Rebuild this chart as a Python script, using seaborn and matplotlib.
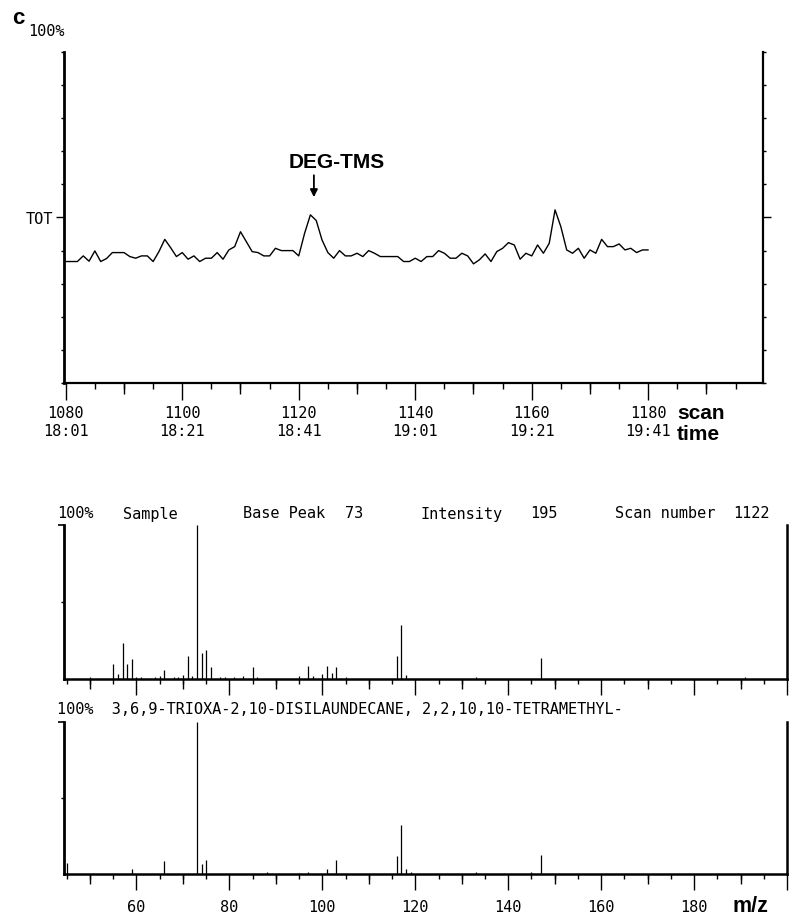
import numpy as np
import pandas as pd
import matplotlib
matplotlib.use("Agg")
import matplotlib.pyplot as plt
import seaborn as sns

# ---------------- data ----------------
scan_numbers = list(range(1080, 1181))
tic_percent = [
    36.7, 36.7, 36.7, 38.4, 36.8, 39.9, 36.7, 37.6, 39.4, 39.4,   # 1080-1089
    39.4, 38.2, 37.7, 38.4, 38.4, 36.7, 39.7, 43.4, 40.9, 38.2,   # 1090-1099
    39.4, 37.4, 38.4, 36.7, 37.7, 37.7, 39.4, 37.4, 40.2, 41.2,   # 1100-1109
    45.7, 42.7, 39.7, 39.4, 38.4, 38.4, 40.7, 40.0, 40.0, 40.0,   # 1110-1119
    38.4, 45.2, 50.8, 49.1, 43.2, 39.4, 37.7, 40.0, 38.4, 38.4,   # 1120-1129
    39.2, 38.2, 40.0, 39.2, 38.2, 38.2, 38.2, 38.2, 36.7, 36.7,   # 1130-1139
    37.7, 36.7, 38.2, 38.2, 40.0, 39.2, 37.7, 37.7, 39.2, 38.4,   # 1140-1149
    36.0, 37.2, 39.0, 36.7, 39.7, 40.7, 42.4, 41.7, 37.4, 39.2,   # 1150-1159
    38.4, 41.7, 39.2, 42.2, 52.3, 47.2, 40.2, 39.2, 40.7, 37.7,   # 1160-1169
    40.2, 39.2, 43.4, 41.2, 41.2, 42.0, 40.2, 40.7, 39.4, 40.2,   # 1170-1179
    40.2,                                                          # 1180
]
scan_tick_values = [1080, 1100, 1120, 1140, 1160, 1180]
time_tick_labels = ["18:01", "18:21", "18:41", "19:01", "19:21", "19:41"]

sample_mz = [50, 55, 56, 57, 58, 59, 60, 61, 64, 65, 66, 68, 69, 70, 71, 72,
             73, 74, 75, 76, 78, 79, 81, 83, 85, 86, 95, 97, 98, 100, 101,
             102, 103, 105, 116, 117, 118, 133, 147, 191]
sample_intensity = [1.0, 9.7, 3.0, 23.6, 9.7, 13.0, 1.0, 1.0, 1.0, 2.0, 5.6,
                    1.0, 1.5, 2.5, 15.0, 2.0, 100.0, 16.7, 18.6, 7.8, 1.5, 1.2,
                    1.5, 2.0, 7.8, 1.5, 2.0, 8.2, 2.0, 3.0, 8.2, 4.0, 7.8, 1.5,
                    15.0, 35.0, 2.6, 1.0, 13.9, 1.0]

ref_mz = [45, 59, 66, 73, 74, 75, 88, 95, 97, 101, 103, 116, 117, 118, 119,
          133, 145, 147]
ref_intensity = [7.0, 3.0, 8.5, 100.0, 6.8, 9.0, 1.0, 0.8, 1.0, 3.5, 9.0,
                 12.0, 32.5, 3.5, 1.0, 1.0, 1.0, 12.7]

mz_tick_values = [60, 80, 100, 120, 140, 160, 180]

sample_header = [("100%", 57), ("Sample", 123), ("Base Peak", 243), ("73", 345),
                 ("Intensity", 420), ("195", 530), ("Scan number", 615),
                 ("1122", 733)]
ref_header = "100%  3,6,9-TRIOXA-2,10-DISILAUNDECANE, 2,2,10,10-TETRAMETHYL-"

# ---------------- style ----------------
sns.set_theme(style="ticks")
plt.rcParams["font.family"] = ["DejaVu Sans Mono", "DejaVu Sans"]
plt.rcParams["axes.edgecolor"] = "black"
plt.rcParams["xtick.color"] = "black"
plt.rcParams["ytick.color"] = "black"
plt.rcParams["text.color"] = "black"

W, H = 792, 917
fig = plt.figure(figsize=(W / 100, H / 100), dpi=100)
fig.patch.set_facecolor("white")

MONO = 11
BOLD = dict(family=["Liberation Sans", "DejaVu Sans"], weight="bold")


def px_axes(left, top, right, bottom):
    return fig.add_axes([left / W, 1 - bottom / H, (right - left) / W, (bottom - top) / H])


def ftext(x, y, s, **kw):
    kw.setdefault("va", "center")
    kw.setdefault("ha", "left")
    return fig.text(x / W, 1 - y / H, s, **kw)


# ---------------- TIC chromatogram ----------------
ax = px_axes(64, 52, 763, 383)
df_tic = pd.DataFrame({"scan": scan_numbers, "tic": tic_percent})
sns.lineplot(data=df_tic, x="scan", y="tic", ax=ax, color="black", lw=1.0)
ax.set_xlim(1079.7, 1199.7)
ax.set_ylim(0, 100)
ax.set_xlabel("")
ax.set_ylabel("")
ax.spines["top"].set_visible(False)
ax.spines["left"].set_linewidth(2.0)
ax.spines["bottom"].set_linewidth(1.6)
ax.spines["right"].set_linewidth(1.6)

ax.set_xticks(scan_tick_values)
ax.set_xticklabels([f"{s}\n{t}" for s, t in zip(scan_tick_values, time_tick_labels)])
ax.set_xticks([v for v in range(1085, 1200, 5)], minor=True)
ax.tick_params(axis="x", which="major", direction="out", length=12, width=1.0,
               pad=4.5, labelsize=MONO, bottom=True)
ax.tick_params(axis="x", which="minor", direction="out", length=4, width=1.0, bottom=True)
for lbl in ax.get_xticklabels():
    lbl.set_linespacing(1.25)
sec = ax.secondary_xaxis("bottom")
sec.set_xticks([v for v in range(1090, 1200, 20)])
sec.set_xticklabels([])
sec.tick_params(axis="x", direction="out", length=8, width=1.0)
sec.spines["bottom"].set_visible(False)

ax.set_yticks([50])
ax.set_yticklabels(["TOT"])
ax.set_yticks([v for v in range(0, 101, 10)], minor=True)
ax.tick_params(axis="y", which="major", direction="out", length=6, width=1.0,
               pad=2, labelsize=MONO, left=True, right=True)
ax.tick_params(axis="y", which="minor", direction="out", length=2.5, width=1.0,
               left=True, right=True)

ax.annotate("", xy=(1122.6, 55.3), xytext=(1122.6, 63.6),
            arrowprops=dict(arrowstyle="-|>", color="black", lw=1.3, mutation_scale=11))
ax.text(1118.3, 66.6, "DEG-TMS", fontsize=15, va="center", ha="left", **BOLD)

ftext(28, 31, "100%", fontsize=MONO)
ftext(12, 18, "c", fontsize=16, **BOLD)
ftext(677, 414, "scan", fontsize=15, **BOLD)
ftext(677, 434, "time", fontsize=15, **BOLD)


# ---------------- mass spectra ----------------
def spectrum_axes(top, bottom, mz, inten, labels):
    a = px_axes(64, top, 787, bottom)
    a.vlines(mz, 0, inten, color="black", lw=0.9)
    a.set_xlim(44.4, 200.0)
    a.set_ylim(0, 100)
    a.spines["top"].set_visible(False)
    a.spines["left"].set_linewidth(2.0)
    a.spines["bottom"].set_linewidth(1.8)
    a.spines["right"].set_linewidth(1.8)
    a.set_xticks(mz_tick_values + [200])
    if labels:
        a.set_xticklabels([str(v) for v in mz_tick_values] + [""])
    else:
        a.set_xticklabels([])
    a.set_xticks([v for v in range(45, 201, 5)], minor=True)
    a.tick_params(axis="x", which="major", direction="out", length=11.5, width=1.0,
                  pad=7.5, labelsize=MONO, bottom=True)
    a.tick_params(axis="x", which="minor", direction="out", length=3.6, width=1.0,
                  bottom=True)
    s2 = a.secondary_xaxis("bottom")
    s2.set_xticks([v for v in range(50, 201, 20)])
    s2.set_xticklabels([])
    s2.tick_params(axis="x", direction="out", length=7.2, width=1.0)
    s2.spines["bottom"].set_visible(False)
    a.set_yticks([100])
    a.set_yticklabels([])
    a.set_yticks([50], minor=True)
    a.tick_params(axis="y", which="major", direction="out", length=4.5, width=1.2, left=True)
    a.tick_params(axis="y", which="minor", direction="out", length=2, width=1.0, left=True)
    a.set_xlabel("")
    a.set_ylabel("")
    return a


spectrum_axes(525, 679, sample_mz, sample_intensity, labels=False)
spectrum_axes(722, 874, ref_mz, ref_intensity, labels=True)

for s, x in sample_header:
    ftext(x, 514, s, fontsize=MONO)
ftext(57, 710, ref_header, fontsize=MONO)
ftext(732, 907, "m/z", fontsize=15.5, **BOLD)

fig.savefig("out.png", dpi=100, facecolor="white")
